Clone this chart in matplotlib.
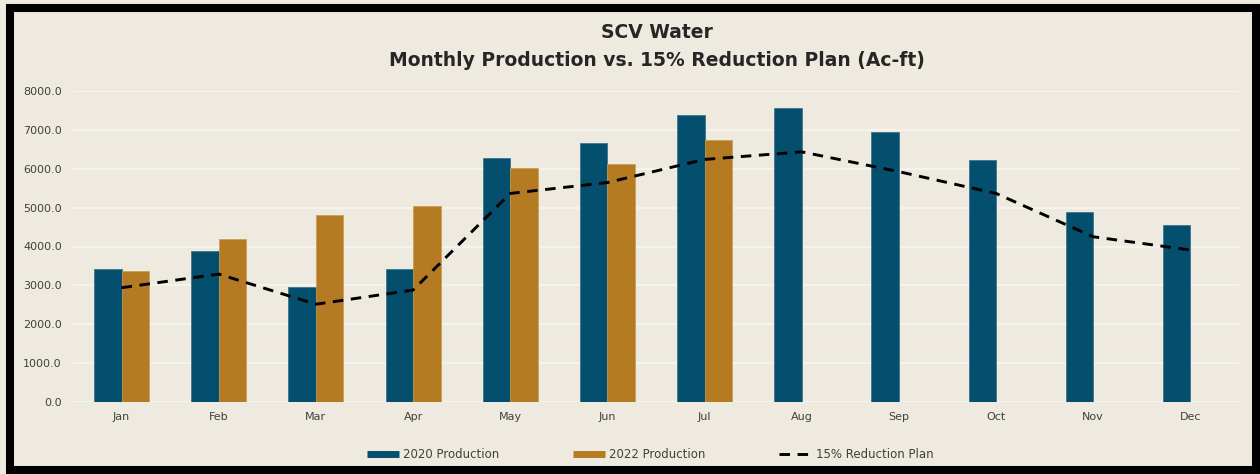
import matplotlib
matplotlib.use("Agg")
import matplotlib.pyplot as plt
import numpy as np
from matplotlib.patches import Rectangle
from matplotlib.lines import Line2D

months = ["Jan", "Feb", "Mar", "Apr", "May", "Jun", "Jul", "Aug", "Sep", "Oct", "Nov", "Dec"]
prod_2020 = [3420, 3875, 2965, 3420, 6285, 6665, 7395, 7575, 6935, 6215, 4900, 4560]
prod_2022 = [3375, 4185, 4800, 5030, 6015, 6125, 6735, None, None, None, None, None]
reduction_plan = [2940, 3290, 2515, 2880, 5365, 5645, 6240, 6435, 5925, 5365, 4250, 3910]
yticks = [0, 1000, 2000, 3000, 4000, 5000, 6000, 7000, 8000]

BLUE = "#034F6D"
ORANGE = "#B47B22"
BG = "#EEEAE0"
GRID = "#F7F5F0"
TXT = "#404040"

fig = plt.figure(figsize=(12.6, 4.74), dpi=100)
fig.patch.set_facecolor(BG)

W, H = 1260, 474
frame = Rectangle((10 / W, 1 - 470 / H), (1256 - 10) / W, (470 - 8) / H,
                  transform=fig.transFigure, facecolor="none", edgecolor="black",
                  linewidth=5.8, zorder=10)
fig.patches.append(frame)

ax = fig.add_axes([73 / W, 1 - 402 / H, (1239 - 73) / W, (402 - 91) / H])
ax.set_facecolor("none")
x = np.arange(len(months))
bw = 0.283
ax.bar(x - bw / 2, prod_2020, width=bw, color=BLUE, edgecolor="#2F6F8A", linewidth=0.5, zorder=3)
v22 = [np.nan if v is None else v for v in prod_2022]
ax.bar(x + bw / 2, v22, width=bw, color=ORANGE, edgecolor="#C99A4E", linewidth=0.5, zorder=3)

ls = (0, (3.6, 2.6))
ax.plot(x, reduction_plan, color="black", linewidth=2.1, linestyle=ls,
        dash_capstyle="butt", dash_joinstyle="round", zorder=4)

ax.set_xlim(-0.5, 11.5)
ax.set_ylim(0, 8000)
ax.set_yticks(yticks)
ax.set_yticklabels([f"{v:.1f}" for v in yticks])
ax.set_xticks(x)
ax.set_xticklabels(months)
ax.tick_params(axis="both", length=0, labelsize=8, labelcolor=TXT)
ax.tick_params(axis="y", pad=8)
ax.tick_params(axis="x", pad=7)
for s in ax.spines.values():
    s.set_visible(False)
ax.grid(axis="y", color=GRID, linewidth=1.2, zorder=0)
ax.set_axisbelow(True)

fig.text(657 / W, 1 - 33 / H, "SCV Water", ha="center", va="center",
         fontsize=13.5, fontweight="bold", color="#262626")
fig.text(657 / W, 1 - 60 / H, "Monthly Production vs. 15% Reduction Plan (Ac-ft)", ha="center",
         va="center", fontsize=13.5, fontweight="bold", color="#262626")

handles = [Line2D([], [], color=BLUE, linewidth=5, solid_capstyle="butt"),
           Line2D([], [], color=ORANGE, linewidth=5, solid_capstyle="butt"),
           Line2D([], [], color="black", linewidth=2.1, linestyle=ls, dash_capstyle="butt")]
labels = ["2020 Production", "2022 Production", "15% Reduction Plan"]
leg = fig.legend(handles, labels, loc="center", bbox_to_anchor=(650 / W, 1 - 455 / H),
                 ncol=3, frameon=False, fontsize=8.5, handlelength=2.7, handletextpad=0.4,
                 columnspacing=6.2, labelcolor=TXT)

fig.savefig("out.png", dpi=100, facecolor=fig.get_facecolor())
